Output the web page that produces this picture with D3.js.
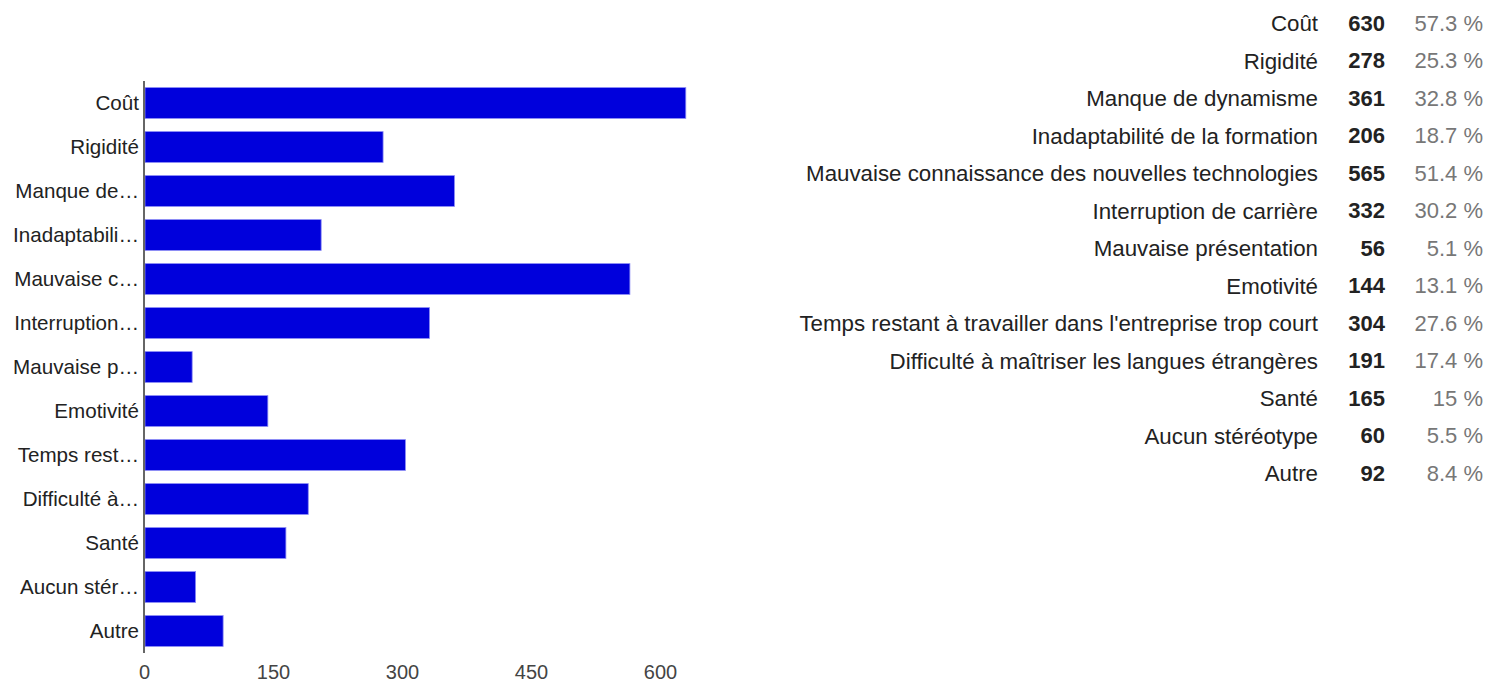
<!DOCTYPE html>
<meta charset="utf-8">
<style>
body { margin: 0; background: #fff; }
text { font-family: Arial, "Liberation Sans", sans-serif; }
.axis path, .axis line { display: none; }
</style>
<body>
<div id="plotHere"></div>
<script src="https://cdn.jsdelivr.net/npm/d3@7"></script>
<script>
// categories, full names for the table
var categories = ["Coût", "Rigidité", "Manque de dynamisme", "Inadaptabilité de la formation",
  "Mauvaise connaissance des nouvelles technologies", "Interruption de carrière",
  "Mauvaise présentation", "Emotivité", "Temps restant à travailler dans l'entreprise trop court",
  "Difficulté à maîtriser les langues étrangères", "Santé", "Aucun stéréotype", "Autre"];
// truncated labels shown on the bar axis
var shortLabels = ["Coût", "Rigidité", "Manque de…", "Inadaptabili…", "Mauvaise c…", "Interruption…",
  "Mauvaise p…", "Emotivité", "Temps rest…", "Difficulté à…", "Santé", "Aucun stér…", "Autre"];
var counts = [630, 278, 361, 206, 565, 332, 56, 144, 304, 191, 165, 60, 92];
var percents = [57.3, 25.3, 32.8, 18.7, 51.4, 30.2, 5.1, 13.1, 27.6, 17.4, 15, 5.5, 8.4];
var xTicks = [0, 150, 300, 450, 600];

var width = 1487, height = 683;

var svg = d3.select("#plotHere").append("svg")
    .attr("width", width)
    .attr("height", height);

//-------------------------- SCALES ------------------------------//
var x = d3.scaleLinear().domain([0, 700]).range([144, 746]);
var y = d3.scaleBand().domain(categories).range([81, 653])
    .paddingInner(0.3).paddingOuter(0.15);

//-------------------------- BARS ------------------------------//
svg.append("g").selectAll("rect")
    .data(categories)
  .enter().append("rect")
    .attr("x", x(0) + 1)
    .attr("y", function(d) { return y(d); })
    .attr("width", function(d, i) { return x(counts[i]) - x(0) - 1; })
    .attr("height", y.bandwidth())
    .attr("fill", "#0000dc")
    .attr("stroke", "#8a8af5")
    .attr("stroke-width", 0.8);

//-------------------------- AXES ------------------------------//
var yAxis = svg.append("g")
    .attr("class", "axis")
    .attr("transform", "translate(139,0)")
    .call(d3.axisLeft(y).tickSize(0).tickPadding(0)
      .tickFormat(function(d, i) { return shortLabels[i]; }));
yAxis.selectAll("text")
    .style("font-size", "20.6px")
    .attr("fill", "#222")
    .attr("dy", "0.36em");

svg.append("line")
    .attr("x1", x(0)).attr("x2", x(0))
    .attr("y1", 81).attr("y2", 653)
    .attr("stroke", "#666")
    .attr("stroke-width", 2);

var xAxis = svg.append("g")
    .attr("class", "axis")
    .attr("transform", "translate(0,662)")
    .call(d3.axisBottom(x).tickValues(xTicks).tickSize(0).tickPadding(0));
xAxis.selectAll("text")
    .style("font-size", "20px")
    .attr("fill", "#444")
    .attr("dy", "0.85em");

//-------------------------- TABLE ------------------------------//
var rows = svg.append("g").selectAll("g")
    .data(categories)
  .enter().append("g")
    .attr("transform", function(d, i) { return "translate(0," + (23 + i * 37.5) + ")"; });

rows.append("text")
    .attr("x", 1318)
    .attr("dy", "0.36em")
    .attr("text-anchor", "end")
    .style("font-size", "22.3px")
    .attr("fill", "#222")
    .text(function(d) { return d; });

rows.append("text")
    .attr("x", 1385)
    .attr("dy", "0.36em")
    .attr("text-anchor", "end")
    .style("font-size", "22px")
    .style("font-weight", "bold")
    .attr("fill", "#222")
    .text(function(d, i) { return counts[i]; });

rows.append("text")
    .attr("x", 1483)
    .attr("dy", "0.36em")
    .attr("text-anchor", "end")
    .style("font-size", "22px")
    .attr("fill", "#777")
    .text(function(d, i) { return percents[i] + " %"; });
</script>
</body>
